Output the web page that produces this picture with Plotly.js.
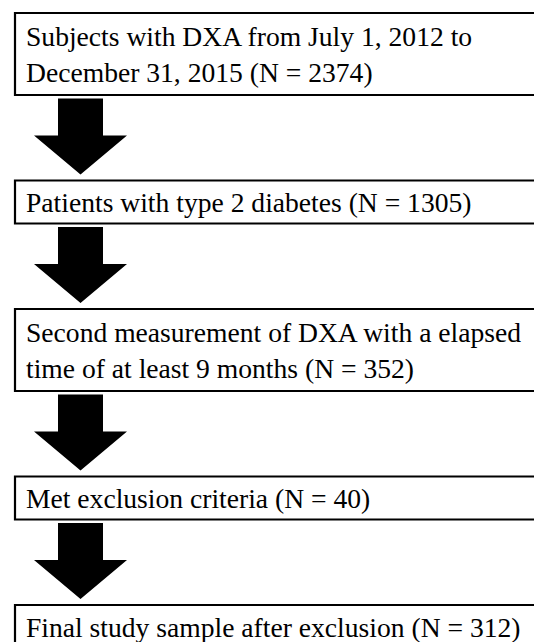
<!DOCTYPE html>
<html>
<head>
<meta charset="utf-8">
<script src="https://cdn.plot.ly/plotly-3.0.1.min.js"></script>
<style>
  html, body { margin: 0; padding: 0; background: #ffffff; }
  #chart { width: 534px; height: 642px; }
</style>
</head>
<body>
<div id="chart"></div>
<script>
// ---- data ----
const stageLabels = [
  "Subjects with DXA from July 1, 2012 to<br>December 31, 2015",
  "Patients with type 2 diabetes",
  "Second measurement of DXA with a elapsed<br>time of at least 9 months",
  "Met exclusion criteria",
  "Final study sample after exclusion"
];
const stageCounts = [2374, 1305, 352, 40, 312];

// ---- layout constants (pixel space) ----
const W = 534, H = 642;
const boxLeft = 15, boxRight = 580;
const firstTop = 13;
const oneLineH = 43, twoLineH = 82;
const gapAbove = 3.5, shaftLen = 37, headLen = 39, gapBelow = 6;
const shaftX0 = 58, shaftX1 = 103, headX0 = 34, headX1 = 127;
const textX = 24;
const fontSize = 27.6;

const shapes = [];
const annotations = [];
let curTop = firstTop;
stageLabels.forEach((lab, i) => {
  const lines = lab.split("<br>").length;
  const h = lines > 1 ? twoLineH : oneLineH;
  const y0 = curTop, y1 = curTop + h;
  shapes.push({
    type: "rect", xref: "x", yref: "y",
    x0: boxLeft, x1: boxRight, y0: y0, y1: y1,
    line: {color: "#000000", width: 2.2},
    fillcolor: "#ffffff", layer: "above"
  });
  annotations.push({
    xref: "x", yref: "y", x: textX, y: (y0 + y1) / 2 + 0.5,
    xanchor: "left", yanchor: "middle", align: "left",
    text: lab + " (N = " + stageCounts[i] + ")",
    showarrow: false,
    font: {family: "Times New Roman, Liberation Serif, serif", size: fontSize, color: "#000000"}
  });
  if (i < stageLabels.length - 1) {
    const a0 = y1 + gapAbove, a1 = a0 + shaftLen, a2 = a1 + headLen;
    const tipX = (headX0 + headX1) / 2;
    const path = "M" + shaftX0 + "," + a0 + " L" + shaftX1 + "," + a0 +
      " L" + shaftX1 + "," + a1 + " L" + headX1 + "," + a1 +
      " L" + tipX + "," + a2 + " L" + headX0 + "," + a1 +
      " L" + shaftX0 + "," + a1 + " Z";
    shapes.push({
      type: "path", xref: "x", yref: "y", path: path,
      fillcolor: "#000000", line: {color: "#000000", width: 0}, layer: "above"
    });
    curTop = a2 + gapBelow;
  }
});

const layout = {
  width: W, height: H,
  margin: {l: 0, r: 0, t: 0, b: 0, pad: 0},
  paper_bgcolor: "#ffffff", plot_bgcolor: "#ffffff",
  showlegend: false,
  font: {family: "Times New Roman, Liberation Serif, serif"},
  xaxis: {range: [0, W], visible: false, fixedrange: true},
  yaxis: {range: [H, 0], visible: false, fixedrange: true},
  shapes: shapes,
  annotations: annotations
};

Plotly.newPlot("chart", [{x: [], y: [], type: "scatter", hoverinfo: "skip"}], layout,
  {displayModeBar: false, staticPlot: true});
</script>
</body>
</html>
